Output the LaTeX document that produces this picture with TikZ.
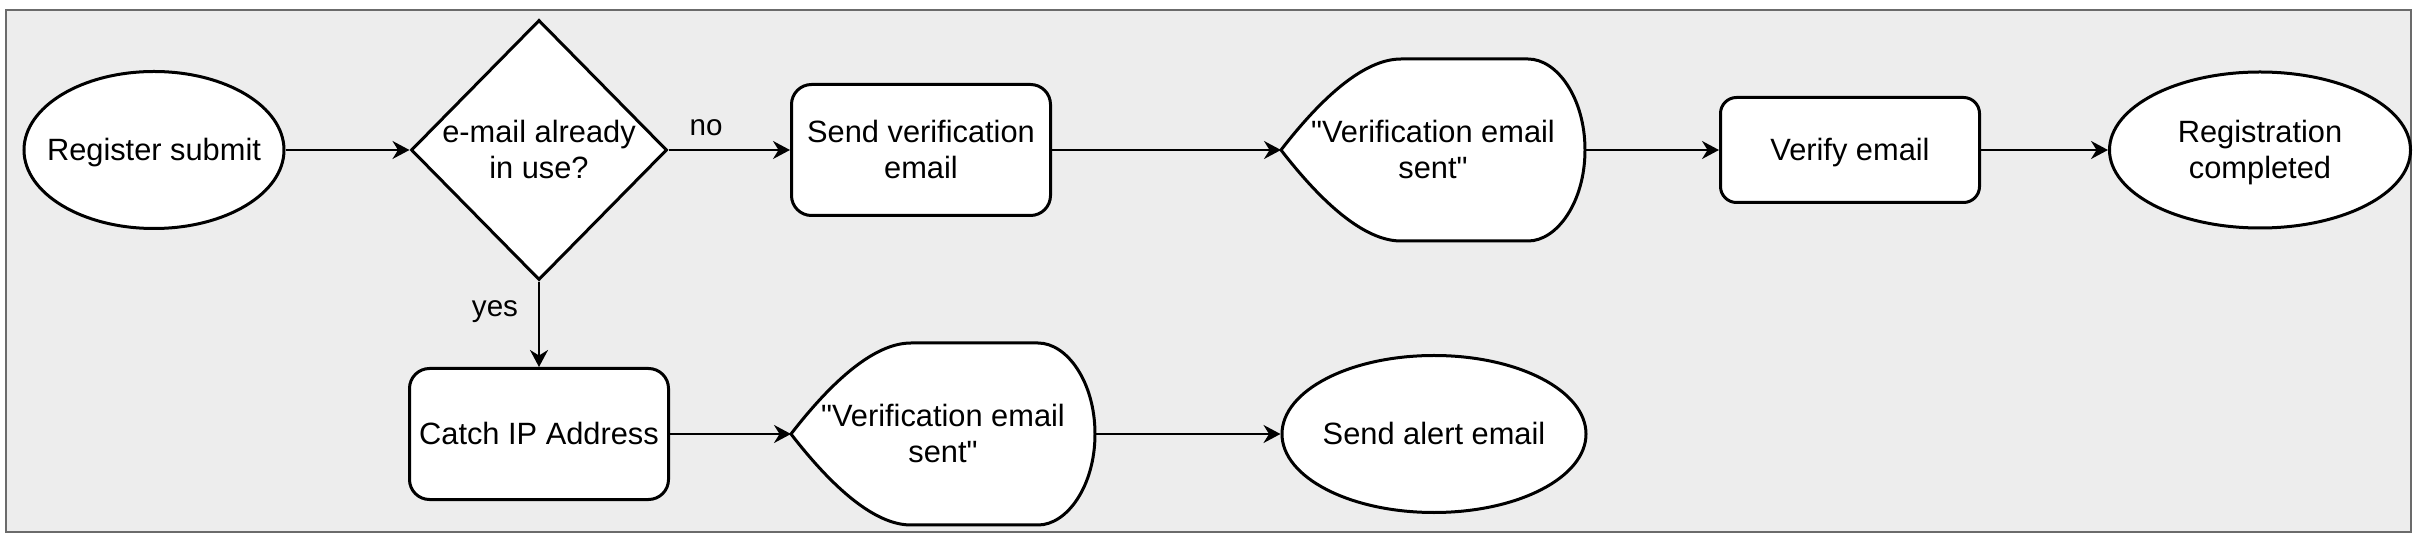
\documentclass[tikz,border=0pt]{standalone}
\usepackage{fontspec}
\setmainfont{Liberation Sans}
\usetikzlibrary{shapes.geometric,arrows.meta}
\pgfdeclarelayer{framelayer}
\pgfdeclarelayer{shapelayer}
\pgfsetlayers{framelayer,shapelayer,main}
\definecolor{framefill}{HTML}{EDEDED}
\definecolor{frameline}{HTML}{6B6B6B}
\newcommand{\nodelines}[1]{\makebox[0pt]{\begin{tabular}[b]{@{}c@{}}#1\end{tabular}}}
\newcommand{\dq}{\textquotedbl}
\tikzset{
  nodetext/.style={font=\fontsize{15.4bp}{18bp}\selectfont, inner sep=0pt, text depth=0pt, text height=11bp},
  twolines/.style={text height=29bp},
  base/.style={nodetext, line width=1.5bp, fill=white, draw=black},
  procbox/.style={base, rectangle, rounded corners=#1},
  termell/.style={base, ellipse},
  decision/.style={base, diamond},
  dispbox/.style={nodetext, outer sep=0pt, minimum width=152bp, minimum height=91bp},
  displine/.style={line width=1.5bp, draw=black, fill=white},
  conn/.style={line width=1bp, -{Stealth[length=8.5bp,width=9bp]}},
  edgelabel/.style={font=\fontsize{14.8bp}{17bp}\selectfont, inner sep=0pt, anchor=base}
}
\begin{document}
\begin{tikzpicture}[x=0.5bp, y=-0.5bp]
\useasboundingbox (0,0) rectangle (2418,546);
\begin{pgfonlayer}{framelayer}
\draw[fill=framefill, draw=frameline, line width=1.2bp] (6,10) rectangle (2411,532);
\end{pgfonlayer}

\node[termell, minimum width=130bp, minimum height=78.5bp] (reg) at (154,150) {\nodelines{Register submit}};
\node[decision, twolines, minimum width=128bp, minimum height=130bp] (dec) at (539,150) {\nodelines{e-mail already\\in use?}};
\node[procbox=10bp, twolines, minimum width=129.5bp, minimum height=65.5bp] (sendv) at (921,150) {\nodelines{Send verification\\email}};
\node[dispbox, twolines] (vs1) at (1433,150) {\nodelines{\dq Verification email\\sent\dq}};
\node[procbox=8bp, minimum width=129.5bp, minimum height=52.5bp] (verify) at (1850,150) {\nodelines{Verify email}};
\node[termell, twolines, minimum width=150.5bp, minimum height=78bp] (done) at (2260,150) {\nodelines{Registration\\completed}};
\node[procbox=10bp, minimum width=129.5bp, minimum height=65.5bp] (catch) at (539,434) {\nodelines{Catch IP Address}};
\node[dispbox, twolines] (vs2) at (943,434) {\nodelines{\dq Verification email\\sent\dq}};
\node[termell, minimum width=152bp, minimum height=78.5bp] (alert) at (1434,434) {\nodelines{Send alert email}};

\begin{pgfonlayer}{shapelayer}
\foreach \n in {vs1,vs2}
  \path[displine, shift={(\n.west)}] (0,0) .. controls (48,-62) and (88,-91) .. (120,-91) -- (247,-91)
     .. controls (276,-91) and (304,-52) .. (304,0)
     .. controls (304,52) and (276,91) .. (247,91) -- (120,91)
     .. controls (88,91) and (48,62) .. (0,0) -- cycle;
\end{pgfonlayer}

\draw[conn] (reg.east) -- (dec.west);
\draw[conn] (dec.east) -- (sendv.west);
\draw[conn] (sendv.east) -- (vs1.west);
\draw[conn] (vs1.east) -- (verify.west);
\draw[conn] (verify.east) -- (done.west);
\draw[conn] (dec.south) -- (catch.north);
\draw[conn] (catch.east) -- (vs2.west);
\draw[conn] (vs2.east) -- (alert.west);

\node[edgelabel] (lno) at (706,136) {no};
\node[edgelabel] (lyes) at (495,317) {yes};
\end{tikzpicture}
\end{document}
